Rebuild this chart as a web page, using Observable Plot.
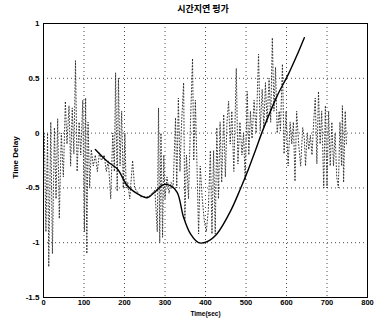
<!DOCTYPE html>
<html>
<head>
<meta charset="utf-8">
<script src="https://cdn.jsdelivr.net/npm/d3@7"></script>
<script src="https://cdn.jsdelivr.net/npm/@observablehq/plot@0.6"></script>
<style>
  body { margin: 0; background: #fff; }
  #title { width: 384px; height: 18px; line-height: 18px; box-sizing: border-box; padding-left: 22px;
           text-align: center; font-family: "Noto Sans CJK KR", sans-serif; font-size: 9px; font-weight: bold; color: #000; }
  svg { display: block; }
</style>
</head>
<body>
<div id="title">시간지연 평가</div>
<div id="chart"></div>
<script>
const titleText = "시간지연 평가";
const xLabel = "Time(sec)";
const yLabel = "Time Delay";
const xTicks = [0, 100, 200, 300, 400, 500, 600, 700, 800];
const yTicks = [-1.5, -1, -0.5, 0, 0.5, 1];
const yTickLabels = ["-1.5", "-1", "-0.5", "0", "0.5", "1"];

// estimated delay (solid line)
const estT = [128, 158, 183, 207, 240, 256, 277, 296, 313, 330, 346, 363, 383, 404, 428, 462, 486, 506, 523, 544, 577, 605, 627, 644];
const estV = [-0.15, -0.26, -0.33, -0.48, -0.57, -0.59, -0.53, -0.47, -0.48, -0.54, -0.77, -0.92, -1.0, -0.99, -0.92, -0.71, -0.51, -0.33, -0.16, 0.05, 0.34, 0.54, 0.72, 0.87];

// measured delay (dotted line)
const actT = [2, 6, 10, 13, 18, 22, 27, 31, 35, 39, 44, 49, 54, 58, 63, 67, 71, 75, 79, 83, 88, 92, 97, 101, 104, 107, 110, 114, 118, 123, 128, 133, 138, 143, 150, 155, 160, 166, 171, 175, 178, 182, 185, 189, 193, 197, 201, 204, 208, 213, 220, 225, 240, 260, 275, 281, 284, 287, 290, 294, 297, 300, 305, 310, 315, 320, 326, 329, 333, 337, 341, 346, 349, 353, 358, 363, 368, 371, 375, 379, 383, 387, 392, 397, 402, 407, 412, 416, 420, 424, 428, 432, 436, 440, 445, 449, 453, 457, 461, 465, 470, 476, 480, 485, 490, 494, 498, 503, 507, 511, 515, 520, 525, 531, 535, 540, 544, 548, 552, 557, 561, 565, 569, 573, 577, 582, 585, 590, 594, 599, 604, 609, 613, 617, 621, 625, 630, 635, 640, 644, 647, 651, 655, 659, 663, 667, 671, 675, 679, 683, 687, 692, 696, 700, 704, 708, 712, 716, 720, 724, 728, 732, 736, 738, 741, 745, 748];
const actV = [0.0, -0.9, 0.0, -1.22, 0.1, -1.1, 0.05, -0.6, 0.13, -0.78, 0.0, -0.4, 0.29, -0.1, 0.25, -0.3, 0.23, -0.19, 0.66, -0.35, 0.1, -0.2, 0.3, -0.9, 0.32, -1.1, 0.1, -0.5, -0.15, -0.3, -0.2, -0.35, -0.18, -0.25, -0.2, -0.35, -0.25, -0.6, 0.0, -0.35, 0.55, -0.53, 0.5, -0.3, 0.2, -0.5, 0.0, -0.5, -0.45, -0.6, -0.25, -0.5, -0.58, -0.58, -0.52, -0.9, 0.23, -1.0, 0.0, -0.95, -0.2, -0.6, -0.4, -0.55, -0.45, -0.5, 0.14, -0.5, 0.32, -0.35, 0.1, 0.46, -0.8, -0.2, -0.6, 0.1, 0.68, -0.25, 0.3, -0.3, -0.92, -0.3, -0.6, -0.8, -0.9, -0.7, -0.16, -0.92, -0.16, -0.92, 0.05, -0.6, 0.1, -0.45, 0.17, -0.4, 0.1, 0.29, -0.1, 0.2, -0.35, 0.59, -0.28, 0.1, -0.2, 0.0, -0.43, 0.38, -0.2, 0.2, -0.05, 0.3, 0.0, 0.72, 0.02, 0.4, 0.05, 0.46, 0.1, 0.5, 0.1, 0.87, 0.2, 0.6, 0.0, 0.2, 0.02, 0.63, -0.19, 0.2, -0.3, 0.1, -0.1, 0.1, -0.44, 0.2, -0.1, -0.3, 0.05, -0.05, -0.3, 0.0, -0.15, -0.02, -0.2, 0.1, 0.32, -0.28, 0.38, -0.1, 0.2, -0.5, 0.25, -0.5, 0.2, -0.3, 0.1, -0.3, 0.0, -0.4, -0.5, 0.1, -0.3, 0.25, -0.45, 0.2, -0.1];

const est = estT.map((t, i) => ({t, v: estV[i]}));
const act = actT.map((t, i) => ({t, v: actV[i]}));

const font = "'Liberation Sans', Arial, sans-serif";

const chart = Plot.plot({
  width: 384,
  height: 306,
  marginLeft: 43,
  marginRight: 17,
  marginTop: 5,
  marginBottom: 27,
  style: {fontFamily: font, fontSize: "8px", fontWeight: "bold", color: "#000", background: "#fff"},
  x: {domain: [0, 800]},
  y: {domain: [-1.5, 1]},
  marks: [
    Plot.gridX(xTicks, {stroke: "#000", strokeOpacity: 0.7, strokeDasharray: "1,3"}),
    Plot.gridY(yTicks, {stroke: "#000", strokeOpacity: 0.7, strokeDasharray: "1,3"}),
    Plot.line(act, {x: "t", y: "v", stroke: "#222", strokeWidth: 0.9, strokeDasharray: "0.9,2.2"}),
    Plot.line(est, {x: "t", y: "v", stroke: "#000", strokeWidth: 1.4, curve: "catmull-rom"}),
    Plot.frame({stroke: "#000", strokeWidth: 1}),
    Plot.axisX(xTicks, {tickSize: 0, tickPadding: 2, label: null, fontSize: 7.5}),
    Plot.axisY(yTicks, {tickSize: 0, tickPadding: 4, label: null, fontSize: 8,
      tickFormat: d => yTickLabels[yTicks.indexOf(d)]}),
    Plot.text([xLabel], {frameAnchor: "bottom", dy: 18, fontSize: 6.5, fontWeight: "bold"}),
    Plot.text([yLabel], {frameAnchor: "left", dx: -28, dy: 18, rotate: -90, fontSize: 8, fontWeight: "bold"})
  ]
});
document.getElementById("chart").appendChild(chart);
</script>
</body>
</html>
